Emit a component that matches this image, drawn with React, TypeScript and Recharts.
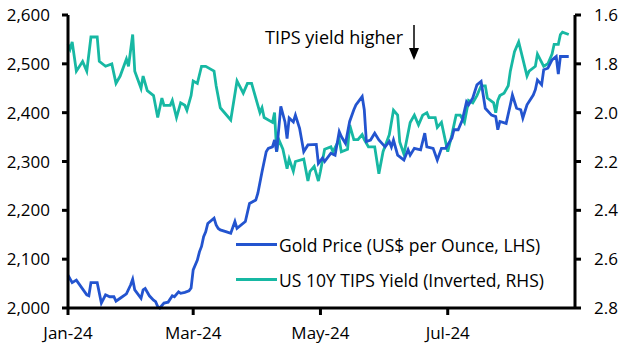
import { LineChart, Line, XAxis, YAxis } from "recharts";

// days since 1 Jan 2024
const goldDays = [
  0, 2, 4, 9, 10, 11, 14, 16, 18, 20, 22, 23, 25, 28, 30, 31, 32, 35, 36, 37, 39, 41, 42, 43, 44, 46, 48, 50, 51, 53,
  54, 56, 58, 59, 60, 62, 63, 64, 65, 66, 67, 70, 71, 72, 73, 76, 78, 80, 81, 85, 87, 90, 91, 93, 95, 96, 98, 99, 100,
  102, 104, 105, 106, 108, 109, 111, 113, 115, 119, 120, 122, 123, 126, 128, 130, 131, 133, 135, 137, 138, 141, 142,
  143, 145, 147, 149, 152, 154, 155, 156, 158, 161, 163, 164, 166, 169, 171, 172, 175, 177, 179, 181, 184, 185, 187,
  189, 191, 192, 194, 196, 198, 200, 203, 205, 206, 207, 210, 212, 213, 215, 217, 218, 220, 223, 224, 225, 227, 228,
  230, 232, 234, 235, 236, 240,
];
const goldPrice = [
  2067, 2052, 2057, 2027, 2025, 2052, 2052, 2010, 2027, 2023, 2023, 2014, 2020, 2029, 2047, 2059, 2037, 2020, 2037,
  2040, 2025, 2016, 2013, 2003, 2000, 2010, 2012, 2025, 2023, 2033, 2030, 2032, 2035, 2041, 2078, 2098, 2115, 2126,
  2146, 2156, 2173, 2184, 2170, 2163, 2160, 2156, 2153, 2177, 2163, 2177, 2214, 2221, 2235, 2279, 2320, 2327, 2330,
  2344, 2320, 2413, 2381, 2347, 2389, 2381, 2395, 2368, 2320, 2334, 2335, 2296, 2307, 2300, 2317, 2313, 2361, 2351,
  2337, 2382, 2406, 2416, 2433, 2406, 2341, 2344, 2358, 2344, 2330, 2341, 2330, 2344, 2313, 2303, 2324, 2313, 2327,
  2324, 2358, 2330, 2327, 2303, 2327, 2327, 2348, 2365, 2365, 2385, 2422, 2416, 2430, 2457, 2464, 2409, 2395, 2392,
  2365, 2382, 2378, 2416, 2436, 2409, 2406, 2389, 2416, 2436, 2447, 2467, 2457, 2488, 2491, 2508, 2515, 2479, 2515,
  2515,
];

const tipsDays = [
  0, 1, 2, 4, 7, 9, 11, 14, 15, 18, 21, 23, 25, 28, 29, 31, 32, 35, 36, 38, 41, 43, 45, 46, 49, 50, 52, 54, 56, 57,
  59, 60, 62, 64, 66, 70, 71, 73, 74, 78, 81, 84, 86, 88, 92, 93, 94, 98, 99, 100, 101, 103, 105, 106, 108, 109, 113,
  115, 116, 118, 120, 121, 123, 126, 127, 130, 131, 134, 135, 137, 139, 141, 142, 144, 147, 149, 151, 154, 156, 158,
  159, 161, 164, 166, 168, 170, 172, 173, 176, 177, 179, 182, 184, 186, 188, 190, 192, 194, 196, 198, 200, 201, 204,
  205, 206, 207, 209, 211, 212, 214, 216, 218, 220, 221, 224, 225, 228, 230, 232, 233, 235, 236, 237, 240,
];
const tipsYield = [
  1.72, 1.74, 1.71, 1.83, 1.79, 1.83, 1.69, 1.69, 1.79, 1.81, 1.8, 1.88, 1.85, 1.78, 1.81, 1.68, 1.83, 1.9, 1.85,
  1.91, 1.93, 2.02, 1.94, 1.97, 1.97, 1.95, 2.02, 1.96, 1.97, 1.99, 1.93, 1.87, 1.88, 1.81, 1.81, 1.83, 1.89, 1.98,
  1.99, 2.03, 1.87, 1.92, 1.88, 1.88, 2.0, 1.98, 2.02, 2.04, 2.0, 2.16, 2.11, 2.15, 2.23, 2.19, 2.24, 2.2, 2.19,
  2.28, 2.24, 2.22, 2.28, 2.24, 2.15, 2.14, 2.16, 2.11, 2.16, 2.15, 2.05, 2.11, 2.11, 2.09, 2.11, 2.14, 2.14, 2.25,
  2.16, 2.09, 1.99, 2.01, 2.12, 2.17, 2.04, 2.01, 2.05, 2.01, 2.0, 2.02, 2.02, 2.06, 2.04, 2.16, 2.09, 2.01, 2.01,
  2.04, 1.95, 1.96, 1.93, 1.89, 1.89, 1.94, 1.96, 2.0, 1.95, 1.93, 1.92, 1.89, 1.83, 1.75, 1.71, 1.78, 1.85, 1.83,
  1.81, 1.76, 1.81, 1.8, 1.76, 1.72, 1.72, 1.68, 1.67, 1.68,
];

const xTicks = [0, 60, 121, 182];
const xTickLabels = ["Jan-24", "Mar-24", "May-24", "Jul-24"];
const leftTicks = [2000, 2100, 2200, 2300, 2400, 2500, 2600];
const rightTicks = [1.6, 1.8, 2.0, 2.2, 2.4, 2.6, 2.8];
const seriesNames = ["Gold Price (US$ per Ounce, LHS)", "US 10Y TIPS Yield (Inverted, RHS)"];

const goldData = goldDays.map((d, i) => ({ day: d, gold: goldPrice[i] }));
const tipsData = tipsDays.map((d, i) => ({ day: d, tips: tipsYield[i] }));

const GOLD = "#2354cf";
const TEAL = "#17b8a3";
const FONT = "'Open Sans', 'Noto Sans', sans-serif";
const tickStyle = { fill: "#000", fontSize: 17, fontFamily: FONT };

export default function App() {
  const colors = [GOLD, TEAL];
  return (
    <div style={{ position: "fixed", left: 0, top: 0, width: 628, height: 352, background: "#fff" }}>
      <LineChart width={628} height={352} margin={{ top: 15, right: 0, bottom: 0, left: 0 }}>
        <XAxis
          dataKey="day"
          type="number"
          domain={[0, 243]}
          ticks={xTicks}
          tickFormatter={(v) => xTickLabels[xTicks.indexOf(v)]}
          height={44}
          stroke="#000"
          strokeWidth={3}
          tickSize={7}
          tickMargin={12}
          tick={tickStyle}
          allowDuplicatedCategory={false}
        />
        <YAxis
          yAxisId="left"
          domain={[2000, 2600]}
          ticks={leftTicks}
          tickFormatter={(v) => v.toLocaleString("en-US")}
          width={68}
          stroke="#000"
          strokeWidth={3}
          tickSize={6}
          tickMargin={12}
          tick={tickStyle}
          interval={0}
        />
        <YAxis
          yAxisId="right"
          orientation="right"
          reversed
          domain={[1.6, 2.8]}
          ticks={rightTicks}
          tickFormatter={(v) => v.toFixed(1)}
          width={53}
          stroke="#000"
          strokeWidth={3}
          tickSize={6}
          tickMargin={13}
          tick={tickStyle}
          interval={0}
        />
        <Line
          yAxisId="right"
          data={tipsData}
          dataKey="tips"
          stroke={TEAL}
          strokeWidth={2.8}
          dot={false}
          isAnimationActive={false}
        />
        <Line
          yAxisId="left"
          data={goldData}
          dataKey="gold"
          stroke={GOLD}
          strokeWidth={2.8}
          dot={false}
          isAnimationActive={false}
        />
      </LineChart>
      <div style={{ position: "absolute", left: 236, top: 227, fontFamily: FONT, fontSize: 17.5, color: "#000" }}>
        {seriesNames.map((n, i) => (
          <div key={n} style={{ display: "flex", alignItems: "center", height: 35 }}>
            <span style={{ display: "inline-block", width: 41, height: 3, background: colors[i], marginRight: 2 }} />
            <span style={{ whiteSpace: "nowrap" }}>{n}</span>
          </div>
        ))}
      </div>
      <div
        style={{
          position: "absolute",
          left: 265,
          top: 25,
          fontFamily: FONT,
          fontSize: 18,
          color: "#000",
          whiteSpace: "nowrap",
        }}
      >
        TIPS yield higher
      </div>
      <svg style={{ position: "absolute", left: 406, top: 24 }} width={16} height={40}>
        <line x1={8} y1={1} x2={8} y2={26} stroke="#000" strokeWidth={1.5} />
        <polygon points="3,24 13,24 8,36" fill="#000" />
      </svg>
    </div>
  );
}
